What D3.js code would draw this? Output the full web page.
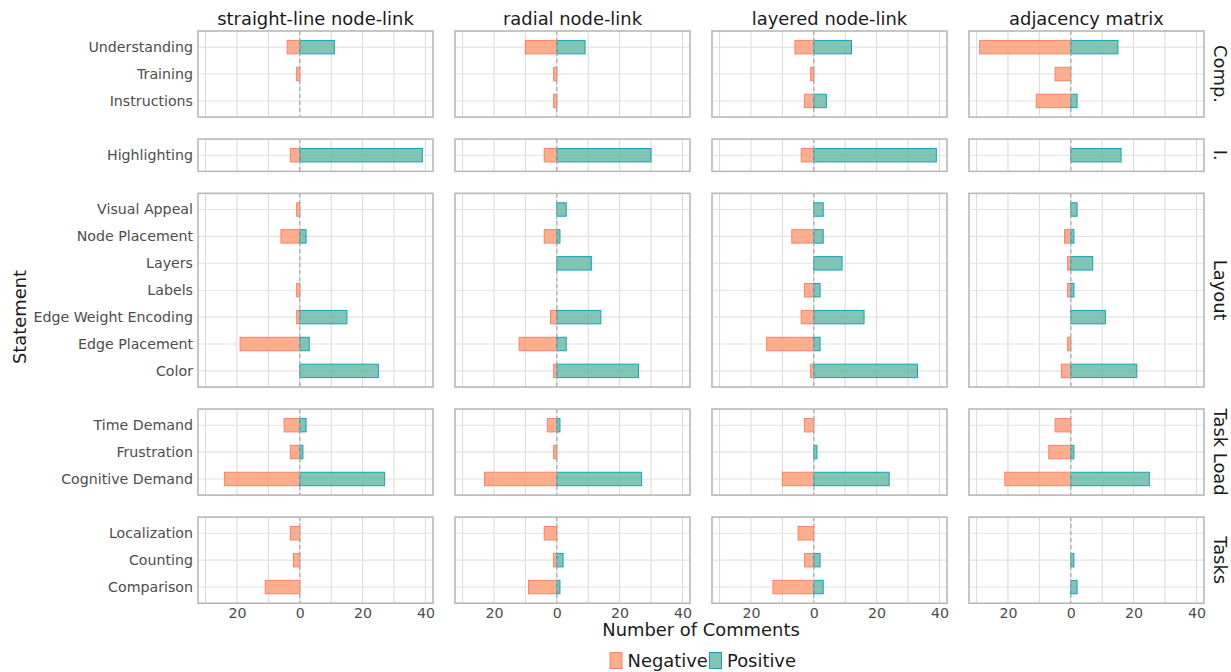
<!DOCTYPE html>
<html>
<head>
<meta charset="utf-8">
<script src="https://cdnjs.cloudflare.com/ajax/libs/d3/7.8.5/d3.min.js"></script>
<style>
  body { margin: 0; background: #fff; }
  text { font-family: "DejaVu Sans", sans-serif; }
</style>
</head>
<body>
<div id="chart"></div>
<script>

// techniques (facet columns) and statement groups (facet rows)
var techniques = ["straight-line node-link", "radial node-link", "layered node-link", "adjacency matrix"];
var groups = ["Comp.", "I.", "Layout", "Task Load", "Tasks"];

var compStatements = ["Understanding", "Training", "Instructions"];
var interStatements = ["Highlighting"];
var layoutStatements = ["Visual Appeal", "Node Placement", "Layers", "Labels", "Edge Weight Encoding", "Edge Placement", "Color"];
var loadStatements = ["Time Demand", "Frustration", "Cognitive Demand"];
var taskStatements = ["Localization", "Counting", "Comparison"];
var groupStatements = [compStatements, interStatements, layoutStatements, loadStatements, taskStatements];

// number of comments, in the order of the statements above (top to bottom)
var negStraight  = [-4, -1, 0, -3, -1, -6, 0, -1, -1, -19, 0, -5, -3, -24, -3, -2, -11];
var posStraight  = [11, 0, 0, 39, 0, 2, 0, 0, 15, 3, 25, 2, 1, 27, 0, 0, 0];
var negRadial    = [-10, -1, -1, -4, 0, -4, 0, 0, -2, -12, -1, -3, -1, -23, -4, -1, -9];
var posRadial    = [9, 0, 0, 30, 3, 1, 11, 0, 14, 3, 26, 1, 0, 27, 0, 2, 1];
var negLayered   = [-6, -1, -3, -4, 0, -7, 0, -3, -4, -15, -1, -3, 0, -10, -5, -3, -13];
var posLayered   = [12, 0, 4, 39, 3, 3, 9, 2, 16, 2, 33, 0, 1, 24, 0, 2, 3];
var negAdjacency = [-29, -5, -11, 0, 0, -2, -1, -1, 0, -1, -3, -5, -7, -21, 0, 0, 0];
var posAdjacency = [15, 0, 2, 16, 2, 1, 7, 1, 11, 0, 21, 0, 1, 25, 0, 1, 2];

var negValues = [negStraight, negRadial, negLayered, negAdjacency];
var posValues = [posStraight, posRadial, posLayered, posAdjacency];

var xTicks = [-20, 0, 20, 40];
var xGrid = [-30, -20, -10, 0, 10, 20, 30, 40];

// layout
var width = 1231, height = 672;
var panelLeft = 198, panelWidth = 235, colGap = 22;
var panelTop = 31, unit = 26.9, rowGap = 22;
var smallFont = "14.2px", bigFont = "17.9px";

var negFill = "#ff9a70", negStroke = "#f6836c";
var posFill = "#62b7a5", posStroke = "#17a2b6";

var svg = d3.select("#chart").append("svg")
  .attr("width", width)
  .attr("height", height);

var x = d3.scaleLinear()
  .domain([-32.4, 42.4])
  .range([0, panelWidth]);

// flat list of all statements so the value arrays can be indexed
var allStatements = [].concat.apply([], groupStatements);

// work out the top of every row of panels (height follows number of statements)
var rowTops = [], y0 = panelTop;
groupStatements.forEach(function(s) {
  rowTops.push(y0);
  y0 += (s.length - 1 + 1.2) * unit + rowGap;
});

techniques.forEach(function(tech, c) {
  var px = panelLeft + c * (panelWidth + colGap);

  // column title
  svg.append("text")
    .attr("x", px + panelWidth / 2)
    .attr("y", 25)
    .attr("text-anchor", "middle")
    .style("font-size", bigFont)
    .style("fill", "#1a1a1a")
    .text(tech);

  groupStatements.forEach(function(statements, r) {
    var ph = (statements.length - 1 + 1.2) * unit;
    var y = d3.scalePoint()
      .domain(statements)
      .range([0, ph])
      .padding(0.6);

    var panel = svg.append("g")
      .attr("transform", "translate(" + px + "," + rowTops[r] + ")");

    // grid lines
    panel.selectAll(".vgrid").data(xGrid).enter().append("line")
      .attr("x1", function(d) { return x(d); })
      .attr("x2", function(d) { return x(d); })
      .attr("y1", 0).attr("y2", ph)
      .attr("stroke", "#dcdcdc")
      .attr("stroke-width", 1.1);

    panel.selectAll(".hgrid").data(statements).enter().append("line")
      .attr("x1", 0).attr("x2", panelWidth)
      .attr("y1", function(d) { return y(d); })
      .attr("y2", function(d) { return y(d); })
      .attr("stroke", "#e2e2e2")
      .attr("stroke-width", 1.1);

    var barH = unit * 0.5;
    var rows = statements.map(function(s) {
      var i = allStatements.indexOf(s);
      return { statement: s, neg: negValues[c][i], pos: posValues[c][i] };
    });

    // negative bars
    panel.selectAll(".neg").data(rows.filter(function(d) { return d.neg !== 0; }))
      .enter().append("rect")
      .attr("x", function(d) { return x(d.neg); })
      .attr("width", function(d) { return x(0) - x(d.neg); })
      .attr("y", function(d) { return y(d.statement) - barH / 2; })
      .attr("height", barH)
      .attr("fill", negFill)
      .attr("fill-opacity", 0.8)
      .attr("stroke", negStroke)
      .attr("stroke-width", 1);

    // positive bars
    panel.selectAll(".pos").data(rows.filter(function(d) { return d.pos !== 0; }))
      .enter().append("rect")
      .attr("x", x(0))
      .attr("width", function(d) { return x(d.pos) - x(0); })
      .attr("y", function(d) { return y(d.statement) - barH / 2; })
      .attr("height", barH)
      .attr("fill", posFill)
      .attr("fill-opacity", 0.8)
      .attr("stroke", posStroke)
      .attr("stroke-width", 1);

    // dashed zero line
    panel.append("line")
      .attr("x1", x(0)).attr("x2", x(0))
      .attr("y1", 0).attr("y2", ph)
      .attr("stroke", "#aaaaaa")
      .attr("stroke-width", 1.3)
      .attr("stroke-dasharray", "4,3");

    // border
    panel.append("rect")
      .attr("width", panelWidth)
      .attr("height", ph)
      .attr("fill", "none")
      .attr("stroke", "#b8b8b8")
      .attr("stroke-width", 1.6);

    // statement labels on the first column
    if (c === 0) {
      panel.selectAll(".ylab").data(statements).enter().append("text")
        .attr("x", -5)
        .attr("y", function(d) { return y(d); })
        .attr("dy", "0.35em")
        .attr("text-anchor", "end")
        .style("font-size", smallFont)
        .style("fill", "#4d4d4d")
        .text(function(d) { return d; });
    }

    // group strip labels on the last column
    if (c === techniques.length - 1) {
      panel.append("text")
        .attr("transform", "translate(" + (panelWidth + 10) + "," + (ph / 2) + ") rotate(90)")
        .attr("text-anchor", "middle")
        .style("font-size", bigFont)
        .style("fill", "#1a1a1a")
        .text(groups[r]);
    }

    // x axis tick labels under the bottom row
    if (r === groupStatements.length - 1) {
      var xAxis = d3.axisBottom(x)
        .tickValues(xTicks)
        .tickSize(0)
        .tickPadding(5)
        .tickFormat(function(d) { return Math.abs(d); });
      var ax = panel.append("g")
        .attr("transform", "translate(0," + ph + ")")
        .call(xAxis);
      ax.select(".domain").remove();
      ax.selectAll("text")
        .style("font-family", "DejaVu Sans, sans-serif")
        .style("font-size", smallFont)
        .style("fill", "#4d4d4d");
    }
  });
});

// axis titles
svg.append("text")
  .attr("x", 701)
  .attr("y", 636)
  .attr("text-anchor", "middle")
  .style("font-size", bigFont)
  .style("fill", "#1a1a1a")
  .text("Number of Comments");

svg.append("text")
  .attr("transform", "translate(26,317) rotate(-90)")
  .attr("text-anchor", "middle")
  .style("font-size", bigFont)
  .style("fill", "#1a1a1a")
  .text("Statement");

// legend
var legend = [
  { label: "Negative", fill: negFill, stroke: negStroke, x: 610 },
  { label: "Positive", fill: posFill, stroke: posStroke, x: 709.5 }
];
legend.forEach(function(d) {
  svg.append("rect")
    .attr("x", d.x).attr("y", 652.5)
    .attr("width", 12).attr("height", 16)
    .attr("fill", d.fill)
    .attr("fill-opacity", 0.8)
    .attr("stroke", d.stroke)
    .attr("stroke-width", 1);
  svg.append("text")
    .attr("x", d.x + 17.5)
    .attr("y", 667)
    .style("font-size", bigFont)
    .style("fill", "#1a1a1a")
    .text(d.label);
});

</script>
</body>
</html>
